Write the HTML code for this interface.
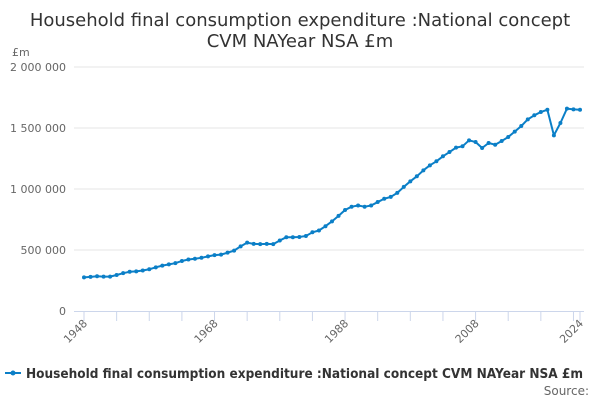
<!DOCTYPE html>
<html><head><meta charset="utf-8"><style>
body{margin:0;background:#fff;}
svg{display:block;font-family:"DejaVu Sans","Liberation Sans",sans-serif;}
</style></head><body>
<svg id="chart" width="600" height="400">
<text x="300" y="26" text-anchor="middle" font-size="18" fill="#333">Household final consumption expenditure :National concept</text>
<text x="300" y="47" text-anchor="middle" font-size="18" fill="#333">CVM NAYear NSA £m</text>
<text x="12" y="56" font-size="11" fill="#666">£m</text>
<g id="grid"></g><g id="xaxis"></g><g id="series"></g>
<g>
<line x1="5" y1="373" x2="21" y2="373" stroke="#0b7fc7" stroke-width="2"/>
<circle cx="13" cy="373" r="2.5" fill="#0b7fc7"/>
<text x="26" y="378" font-size="13" font-weight="bold" fill="#333" textLength="557" lengthAdjust="spacingAndGlyphs">Household final consumption expenditure :National concept CVM NAYear NSA £m</text>
</g>
<text x="589" y="395" text-anchor="end" font-size="12" fill="#666">Source:</text>
</svg>
<script>
const years=[];for(let y=1948;y<=2024;y++)years.push(y);
const values=[276,280,285,282,282,295,310,322,325,332,342,358,372,382,392,410,422,428,436,448,458,462,478,495,530,560,550,548,550,548,578,605,605,607,615,645,660,695,735,780,828,855,865,855,865,893,920,935,968,1017,1063,1104,1153,1194,1227,1268,1303,1339,1350,1399,1385,1336,1377,1363,1393,1426,1470,1516,1571,1604,1631,1650,1440,1541,1659,1653,1650].map(v=>v*1000);
const yTicks=[0,500000,1000000,1500000,2000000];
const yTickLabels=["0","500 000","1 000 000","1 500 000","2 000 000"];
const xLabelYears=[1948,1968,1988,2008,2024];
const NS="http://www.w3.org/2000/svg";
const X=y=>84+(y-1948)*(580-84)/76;
const Y=v=>311-v/2000000*244;
function mk(t,a,p){const e=document.createElementNS(NS,t);for(const k in a)e.setAttribute(k,a[k]);p.appendChild(e);return e;}
const grid=document.getElementById('grid');
yTicks.forEach((v,i)=>{
 if(v>0){const l=mk('line',{x1:74,x2:584,y1:Y(v),y2:Y(v),stroke:'#e6e6e6','stroke-width':1},grid);
 
 }
 const t=mk('text',{x:66,y:Y(v)+4,'text-anchor':'end','font-size':11,fill:'#666'},grid);t.textContent=yTickLabels[i];
 
 
});
const xa=document.getElementById('xaxis');
const axl=mk('line',{x1:74,x2:584,y1:311.5,y2:311.5,stroke:'#ccd6eb','stroke-width':1},xa);


const tickYears=[];for(let y=1948;y<=2023;y+=5)tickYears.push(y);tickYears.push(2024);
tickYears.forEach(y=>{const t=mk('line',{x1:X(y),x2:X(y),y1:311,y2:321,stroke:'#ccd6eb','stroke-width':1},xa);
 
 });
xLabelYears.forEach(y=>{const t=mk('text',{x:X(y)+4,y:324,'text-anchor':'end','font-size':11,fill:'#666',transform:`rotate(-45 ${X(y)+4} 324)`},xa);t.textContent=y;
 
 });
const s=document.getElementById('series');
const path=mk('polyline',{points:years.map((y,i)=>X(y)+','+Y(values[i])).join(' '),fill:'none',stroke:'#0b7fc7','stroke-width':2,'stroke-linejoin':'round'},s);


years.forEach((y,i)=>{const c=mk('circle',{cx:X(y),cy:Y(values[i]),r:2,fill:'#0b7fc7'},s);
 
 });
</script>
</body></html>
